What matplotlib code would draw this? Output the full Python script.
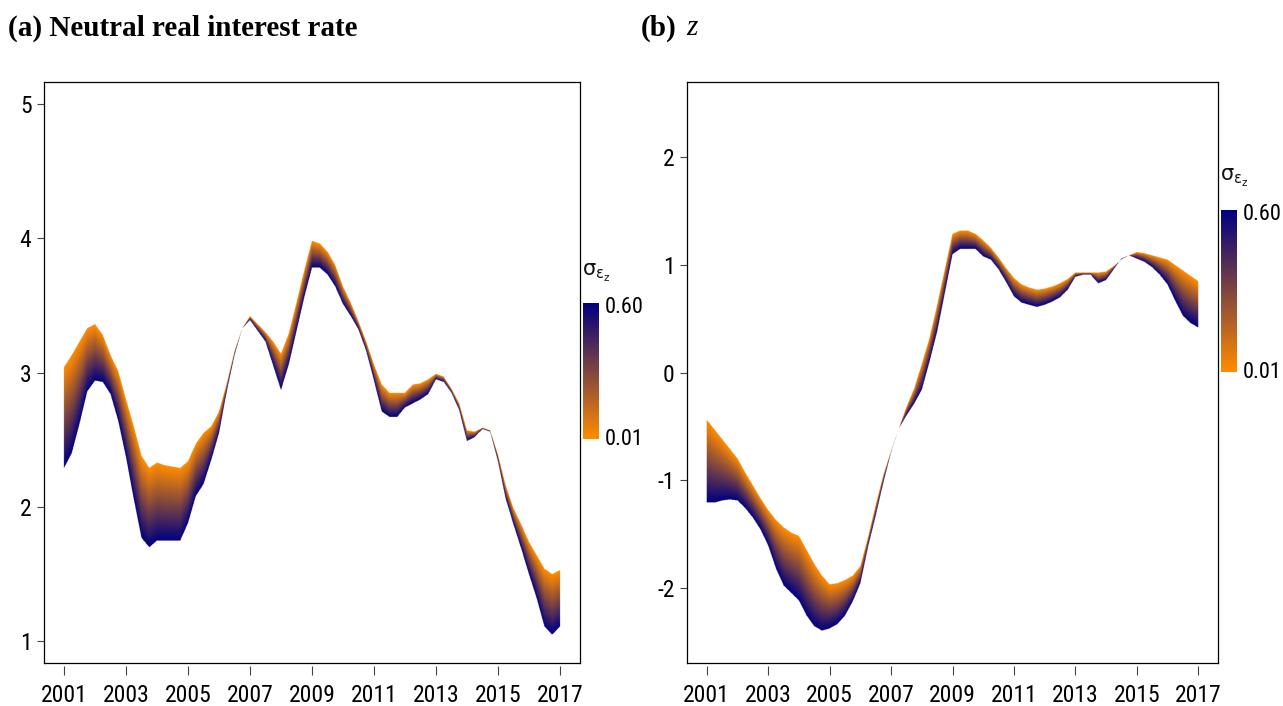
import numpy as np
import matplotlib
matplotlib.use('Agg')
import matplotlib.pyplot as plt
from matplotlib.colors import LinearSegmentedColormap
from matplotlib.lines import Line2D
from matplotlib import font_manager

avail = {f.name for f in font_manager.fontManager.ttflist}
narrow = [n for n in ['Liberation Sans Narrow', 'Arial Narrow', 'DejaVu Sans Condensed',
                      'Roboto Condensed', 'Open Sans Condensed'] if n in avail]
plt.rcParams['font.family'] = narrow + ['Liberation Sans', 'DejaVu Sans']
plt.rcParams['axes.unicode_minus'] = False
plt.rcParams['mathtext.fontset'] = 'dejavusans'

# ---------------- data (quarterly, 2001Q1 .. 2017Q1) ----------------
years = np.arange(2001.0, 2017.001, 0.25)

# Neutral real interest rate: band edges for sigma = 0.01 (orange) and sigma = 0.60 (navy)
rate_sigma_low = [3.04, 3.13, 3.23, 3.33, 3.36, 3.28, 3.13, 3.01, 2.80, 2.60, 2.38, 2.29,
                  2.33, 2.31, 2.30, 2.29, 2.34, 2.47, 2.55, 2.60, 2.71, 2.92, 3.16, 3.33,
                  3.42, 3.36, 3.30, 3.23, 3.14, 3.29, 3.52, 3.76, 3.98, 3.96, 3.90, 3.80,
                  3.64, 3.52, 3.38, 3.23, 3.06, 2.91, 2.85, 2.85, 2.85, 2.91, 2.92, 2.95,
                  2.99, 2.97, 2.88, 2.77, 2.57, 2.56, 2.59, 2.57, 2.39, 2.16, 1.99, 1.87,
                  1.74, 1.64, 1.54, 1.50, 1.53]
rate_sigma_high = [2.29, 2.40, 2.62, 2.86, 2.94, 2.93, 2.84, 2.64, 2.37, 2.06, 1.77, 1.70,
                   1.75, 1.75, 1.75, 1.75, 1.88, 2.08, 2.17, 2.35, 2.55, 2.86, 3.13, 3.33,
                   3.39, 3.31, 3.23, 3.05, 2.87, 3.06, 3.31, 3.56, 3.78, 3.78, 3.73, 3.64,
                   3.51, 3.42, 3.32, 3.16, 2.94, 2.71, 2.67, 2.67, 2.74, 2.77, 2.80, 2.84,
                   2.95, 2.93, 2.85, 2.72, 2.49, 2.52, 2.58, 2.56, 2.34, 2.06, 1.87, 1.69,
                   1.50, 1.32, 1.11, 1.05, 1.11]

# z: band edges for sigma = 0.01 (orange) and sigma = 0.60 (navy)
z_sigma_low = [-0.44, -0.53, -0.62, -0.71, -0.80, -0.93, -1.05, -1.17, -1.28, -1.37, -1.44, -1.49,
               -1.52, -1.65, -1.78, -1.89, -1.97, -1.96, -1.93, -1.89, -1.80, -1.53, -1.23, -0.95,
               -0.73, -0.52, -0.32, -0.15, 0.08, 0.32, 0.63, 0.96, 1.29, 1.32, 1.32, 1.29,
               1.23, 1.16, 1.07, 0.97, 0.88, 0.82, 0.79, 0.77, 0.78, 0.80, 0.83, 0.87,
               0.93, 0.93, 0.93, 0.93, 0.94, 0.99, 1.05, 1.09, 1.12, 1.11, 1.09, 1.07,
               1.05, 1.00, 0.95, 0.90, 0.85]
z_sigma_high = [-1.21, -1.21, -1.19, -1.18, -1.19, -1.26, -1.35, -1.46, -1.61, -1.82, -1.98, -2.05,
                -2.12, -2.26, -2.36, -2.40, -2.38, -2.34, -2.26, -2.13, -1.96, -1.62, -1.33, -1.02,
                -0.74, -0.52, -0.40, -0.29, -0.16, 0.10, 0.38, 0.74, 1.10, 1.15, 1.15, 1.15,
                1.08, 1.05, 0.96, 0.84, 0.71, 0.65, 0.63, 0.61, 0.63, 0.66, 0.70, 0.77,
                0.89, 0.91, 0.91, 0.83, 0.86, 0.96, 1.06, 1.09, 1.06, 1.03, 0.98, 0.91,
                0.82, 0.67, 0.53, 0.46, 0.42]

sigma_labels = ['0.01', '0.60']
x_ticks = list(range(2001, 2018, 2))
rate_yticks = [1, 2, 3, 4, 5]
z_yticks = [-2, -1, 0, 1, 2]

# ---------------- styling ----------------
W, H = 1283, 706
cmap = LinearSegmentedColormap.from_list('sig', ['#FF8C00', '#000080'])
TICK_FS = 17 if narrow else 14
CB_FS = 16 if narrow else 13


def fx(px):
    return px / W


def fy(py):
    return 1 - py / H


def draw_band(ax, x, up, lo, xlim, ylim):
    x = np.asarray(x); up = np.asarray(up, float); lo = np.asarray(lo, float)
    nx, ny = 1400, 1400
    xs = np.linspace(xlim[0], xlim[1], nx)
    ys = np.linspace(ylim[0], ylim[1], ny)
    u = np.interp(xs, x, up)
    l = np.interp(xs, x, lo)
    inside = (xs >= x[0]) & (xs <= x[-1])
    d = (l - u)[None, :]
    d = np.where(np.abs(d) < 1e-9, 1e-9, d)
    t = (ys[:, None] - u[None, :]) / d
    valid = (t >= 0) & (t <= 1) & inside[None, :]
    rgba = cmap(np.clip(t, 0, 1)).astype(np.float32)
    rgba[..., 3] = valid.astype(np.float32)
    ax.imshow(rgba, origin='lower', extent=[xlim[0], xlim[1], ylim[0], ylim[1]],
              aspect='auto', interpolation='antialiased', zorder=1)


def style_axes(ax, xlim, ylim, yticks):
    ax.set_xlim(*xlim)
    ax.set_ylim(*ylim)
    ax.set_xticks(x_ticks)
    ax.set_xticklabels([str(v) for v in x_ticks])
    ax.set_yticks(yticks)
    ax.set_yticklabels([str(v) for v in yticks])
    for s in ['left', 'right', 'top']:
        ax.spines[s].set_linewidth(0.9)
        ax.spines[s].set_color('black')
    ax.spines['bottom'].set_position(('outward', 2.4))
    ax.spines['bottom'].set_color('none')
    ax.add_line(Line2D([0, 1], [0, 0], transform=ax.transAxes, color='black',
                       lw=0.9, clip_on=False, zorder=5))
    ax.tick_params(axis='x', length=6.5, width=0.8, pad=6.5, labelsize=TICK_FS, color='#444444')
    ax.tick_params(axis='y', length=5, width=0.8, pad=4, labelsize=TICK_FS, color='#444444')


def colorbar(fig, x0, x1, y0, y1, title_y):
    cax = fig.add_axes([fx(x0), fy(y1), fx(x1 - x0), (y1 - y0) / H])
    cax.imshow(np.linspace(0, 1, 256)[:, None], cmap=cmap, aspect='auto', origin='lower')
    cax.axis('off')
    fig.text(fx(x1 + 6), fy(y0 + 5), sigma_labels[1], ha='left', va='center', fontsize=CB_FS)
    fig.text(fx(x1 + 6), fy(y1), sigma_labels[0], ha='left', va='center', fontsize=CB_FS)
    fig.text(fx(x0 - 1), fy(title_y), r'$\mathrm{\sigma}_{\mathrm{\varepsilon}_{\mathrm{z}}}$',
             ha='left', va='center', fontsize=15, color='#111111')


fig = plt.figure(figsize=(W / 100, H / 100), dpi=100)

# Panel (a)
ax1 = fig.add_axes([fx(44), fy(663), fx(580 - 44), (663 - 82) / H])
xl = (2000.36, 2017.64)
yl1 = (0.84, 5.16)
draw_band(ax1, years, rate_sigma_low, rate_sigma_high, xl, yl1)
style_axes(ax1, xl, yl1, rate_yticks)
colorbar(fig, 583, 599, 303, 439, 273)

# Panel (b)
ax2 = fig.add_axes([fx(687), fy(663), fx(1218 - 687), (663 - 82) / H])
yl2 = (-2.7, 2.7)
draw_band(ax2, years, z_sigma_low, z_sigma_high, xl, yl2)
style_axes(ax2, xl, yl2, z_yticks)
colorbar(fig, 1221, 1237, 210, 372, 178)

# Titles
fig.text(fx(8), fy(28), '(a) Neutral real interest rate', family='Liberation Serif',
         fontweight='bold', fontsize=21, ha='left', va='center')
fig.text(fx(641), fy(28), '(b)', family='Liberation Serif', fontweight='bold',
         fontsize=21, ha='left', va='center')
fig.text(fx(686), fy(28), 'z', family='Liberation Serif', style='italic',
         fontsize=21, ha='left', va='center')

fig.savefig('out.png', dpi=100)
